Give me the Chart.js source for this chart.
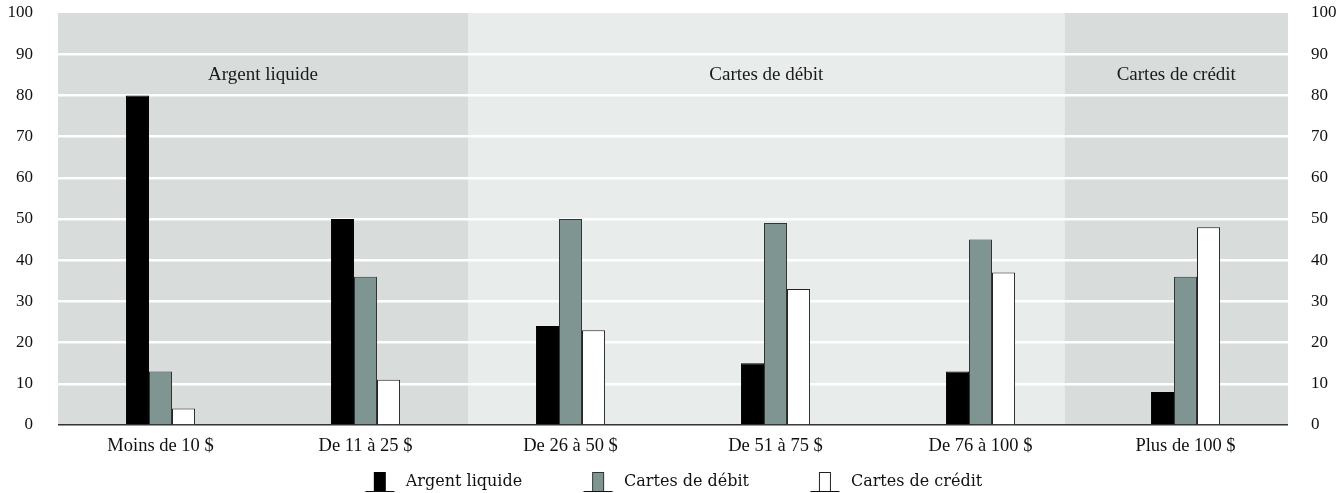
<!DOCTYPE html>
<html>
<head>
<meta charset="utf-8">
<script src="https://cdn.jsdelivr.net/npm/chart.js@4.4.0/dist/chart.umd.min.js"></script>
<style>
  html, body { margin: 0; padding: 0; background: #fff; }
  #wrap { width: 1344px; height: 493px; position: relative; }
</style>
</head>
<body>
<div id="wrap"><canvas id="chart"></canvas></div>
<script>
// Données du graphique
const categories = ['Moins de 10 $', 'De 11 à 25 $', 'De 26 à 50 $', 'De 51 à 75 $', 'De 76 à 100 $', 'Plus de 100 $'];
const argentLiquide = [80, 50, 24, 15, 13, 8];
const cartesDebit = [13, 36, 50, 49, 45, 36];
const cartesCredit = [4, 11, 23, 33, 37, 48];

// Zones de fond (indices de catégorie, fractionnaires) et leurs étiquettes
const bandLabels = ['Argent liquide', 'Cartes de débit', 'Cartes de crédit'];
const bandStarts = [-0.5, 1.5, 4.41];
const bandEnds = [1.5, 4.41, 5.5];
const bandColors = ['#d8dddb', '#e8ecea', '#d8dddb'];
const bandLabelValue = 85;

const FONT = '"Liberation Serif", "DejaVu Serif", serif';
const LEGEND_FONT = '"DejaVu Serif", serif';

// Glyphe de légende : une barre posée sur une ligne
const GLYPH_W = 36;
function makeGlyph(fill, stroke) {
    const c = document.createElement('canvas');
    c.width = GLYPH_W;
    c.height = 22;
    const g = c.getContext('2d');
    g.fillStyle = fill;
    g.fillRect(12.5, 1.5, 11, 19);
    g.strokeStyle = stroke;
    g.lineWidth = 1;
    g.strokeRect(12.5, 1.5, 11, 19);
    g.strokeStyle = '#111';
    g.beginPath();
    g.moveTo(3.5, 20.5);
    g.lineTo(32.5, 20.5);
    g.stroke();
    return c;
}

const bandsPlugin = {
    id: 'bands',
    beforeDraw(chart) {
        const { ctx, chartArea, scales } = chart;
        const x = scales.x;
        ctx.save();
        for (let i = 0; i < bandStarts.length; i++) {
            const x0 = x.getPixelForValue(bandStarts[i]);
            const x1 = x.getPixelForValue(bandEnds[i]);
            ctx.fillStyle = bandColors[i];
            ctx.fillRect(x0, chartArea.top, x1 - x0, chartArea.bottom - chartArea.top);
        }
        ctx.restore();
    },
    beforeDatasetsDraw(chart) {
        const { ctx, scales } = chart;
        const x = scales.x;
        const yPos = scales.y.getPixelForValue(bandLabelValue);
        ctx.save();
        ctx.font = '19px ' + FONT;
        ctx.fillStyle = '#1a1a1a';
        ctx.textAlign = 'center';
        ctx.textBaseline = 'middle';
        for (let i = 0; i < bandLabels.length; i++) {
            const x0 = x.getPixelForValue(bandStarts[i]);
            const x1 = x.getPixelForValue(bandEnds[i]);
            ctx.fillText(bandLabels[i], (x0 + x1) / 2, yPos);
        }
        ctx.restore();
    }
};

// Largeur fixe des axes verticaux et marge haute réduite
function fixAxis(width) {
    return function (scale) {
        scale.width = width;
        scale.paddingTop = 13;
        scale.paddingBottom = 10;
    };
}

const ctx = document.getElementById('chart').getContext('2d');
new Chart(ctx, {
    type: 'bar',
    data: {
        labels: categories,
        datasets: [
            {
                label: 'Argent liquide',
                data: argentLiquide,
                backgroundColor: '#000000',
                borderColor: '#000000',
                borderWidth: 1,
                pointStyle: makeGlyph('#000000', '#000000')
            },
            {
                label: 'Cartes de débit',
                data: cartesDebit,
                backgroundColor: '#7f9592',
                borderColor: '#333333',
                borderWidth: 1,
                pointStyle: makeGlyph('#7f9592', '#333333')
            },
            {
                label: 'Cartes de crédit',
                data: cartesCredit,
                backgroundColor: '#ffffff',
                borderColor: '#222222',
                borderWidth: 1,
                pointStyle: makeGlyph('#ffffff', '#222222')
            }
        ]
    },
    options: {
        responsive: true,
        maintainAspectRatio: false,
        animation: false,
        layout: { padding: { top: 0, left: 8, right: 8, bottom: -7 } },
        datasets: {
            bar: { barPercentage: 1, categoryPercentage: 0.337 }
        },
        plugins: {
            tooltip: { enabled: false },
            legend: {
                position: 'bottom',
                labels: {
                    usePointStyle: true,
                    pointStyleWidth: GLYPH_W,
                    padding: 2,
                    color: '#111',
                    font: { family: LEGEND_FONT, size: 16 },
                    // espaces insécables pour écarter les entrées sans agrandir la hauteur
                    generateLabels(chart) {
                        const items = Chart.defaults.plugins.legend.labels.generateLabels(chart);
                        items.forEach((it, i) => {
                            if (i < items.length - 1) it.text += '\u00a0'.repeat(11);
                        });
                        return items;
                    }
                }
            }
        },
        scales: {
            x: {
                afterFit(scale) { scale.height = 47; },
                grid: { display: false, drawTicks: false },
                border: { display: false },
                ticks: {
                    color: '#111',
                    padding: 10,
                    font: { family: FONT, size: 18.5 }
                }
            },
            y: {
                position: 'left',
                min: 0,
                max: 100,
                afterFit: fixAxis(50),
                ticks: {
                    stepSize: 10,
                    padding: 25,
                    color: '#111',
                    font: { family: FONT, size: 17 }
                },
                border: { display: false },
                grid: {
                    drawTicks: false,
                    color: c => c.tick.value === 0 ? '#333333' : (c.tick.value === 100 ? 'rgba(0,0,0,0)' : '#ffffff'),
                    lineWidth: c => c.tick.value === 0 ? 1.5 : 2.5
                }
            },
            y2: {
                position: 'right',
                min: 0,
                max: 100,
                afterFit: fixAxis(48),
                ticks: {
                    stepSize: 10,
                    padding: 23,
                    color: '#111',
                    font: { family: FONT, size: 17 }
                },
                border: { display: false },
                grid: { display: false, drawTicks: false }
            }
        }
    },
    plugins: [bandsPlugin]
});
</script>
</body>
</html>
